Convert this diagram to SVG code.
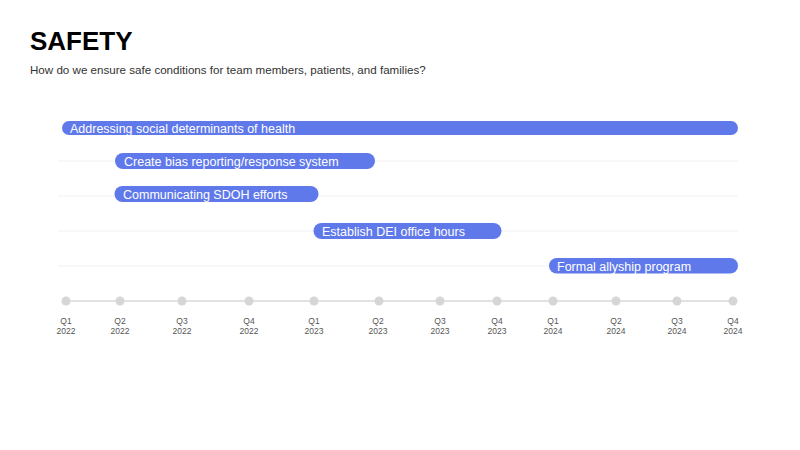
<svg xmlns="http://www.w3.org/2000/svg" width="800" height="450" viewBox="0 0 800 450">
<style>
.title{font-family:"Liberation Sans",Arial,sans-serif;font-weight:bold;font-size:26px;fill:#000}
.sub{font-family:"Liberation Sans",Arial,sans-serif;font-size:11.6px;fill:#333}
.bar{fill:#6079EA}
.bt{font-family:"Liberation Sans",Arial,sans-serif;font-size:12.5px;fill:#fff}
.grid{stroke:#f0f0f0;stroke-width:1}
.axis{stroke:#d9d9d9;stroke-width:1.5}
.dot{fill:#d6d6d6}
.ax{font-family:"Liberation Sans",Arial,sans-serif;font-size:8.5px;fill:#555;text-anchor:middle}
</style>
<rect width="800" height="450" fill="#fff"/>
<text class="title" x="30" y="50">SAFETY</text>
<text class="sub" x="30" y="74">How do we ensure safe conditions for team members, patients, and families?</text>
<g id="connectors">
<line class="grid" x1="58" y1="161" x2="738" y2="161"/>
<line class="grid" x1="58" y1="196" x2="738" y2="196"/>
<line class="grid" x1="58" y1="231" x2="738" y2="231"/>
<line class="grid" x1="58" y1="266" x2="738" y2="266"/>
<line class="axis" x1="66" y1="301" x2="733" y2="301"/>
</g>
<g id="bar1"><rect class="bar" x="62" y="121" width="676" height="14" rx="7"/><text class="bt" x="70" y="132.5">Addressing social determinants of health</text></g>
<g id="bar2"><rect class="bar" x="115" y="153" width="260" height="16" rx="8"/><text class="bt" x="124" y="165.5">Create bias reporting/response system</text></g>
<g id="bar3"><rect class="bar" x="114.5" y="186" width="204" height="16" rx="8"/><text class="bt" x="123" y="198.5">Communicating SDOH efforts</text></g>
<g id="bar4"><rect class="bar" x="313.5" y="223" width="188" height="16" rx="8"/><text class="bt" x="322" y="235.5">Establish DEI office hours</text></g>
<g id="bar5"><rect class="bar" x="549" y="258" width="189" height="15.5" rx="7.75"/><text class="bt" x="557" y="270.5">Formal allyship program</text></g>
<g id="axis">
<circle class="dot" cx="66" cy="301" r="4.5"/><text class="ax" x="66" y="323.5">Q1</text><text class="ax" x="66" y="333.5">2022</text>
<circle class="dot" cx="120" cy="301" r="4.5"/><text class="ax" x="120" y="323.5">Q2</text><text class="ax" x="120" y="333.5">2022</text>
<circle class="dot" cx="182" cy="301" r="4.5"/><text class="ax" x="182" y="323.5">Q3</text><text class="ax" x="182" y="333.5">2022</text>
<circle class="dot" cx="249" cy="301" r="4.5"/><text class="ax" x="249" y="323.5">Q4</text><text class="ax" x="249" y="333.5">2022</text>
<circle class="dot" cx="314" cy="301" r="4.5"/><text class="ax" x="314" y="323.5">Q1</text><text class="ax" x="314" y="333.5">2023</text>
<circle class="dot" cx="379" cy="301" r="4.5"/><text class="ax" x="378" y="323.5">Q2</text><text class="ax" x="378" y="333.5">2023</text>
<circle class="dot" cx="440" cy="301" r="4.5"/><text class="ax" x="440" y="323.5">Q3</text><text class="ax" x="440" y="333.5">2023</text>
<circle class="dot" cx="497" cy="301" r="4.5"/><text class="ax" x="497" y="323.5">Q4</text><text class="ax" x="497" y="333.5">2023</text>
<circle class="dot" cx="553" cy="301" r="4.5"/><text class="ax" x="553" y="323.5">Q1</text><text class="ax" x="553" y="333.5">2024</text>
<circle class="dot" cx="616" cy="301" r="4.5"/><text class="ax" x="616" y="323.5">Q2</text><text class="ax" x="616" y="333.5">2024</text>
<circle class="dot" cx="677" cy="301" r="4.5"/><text class="ax" x="677" y="323.5">Q3</text><text class="ax" x="677" y="333.5">2024</text>
<circle class="dot" cx="733" cy="301" r="4.5"/><text class="ax" x="733" y="323.5">Q4</text><text class="ax" x="733" y="333.5">2024</text>
</g>
</svg>
